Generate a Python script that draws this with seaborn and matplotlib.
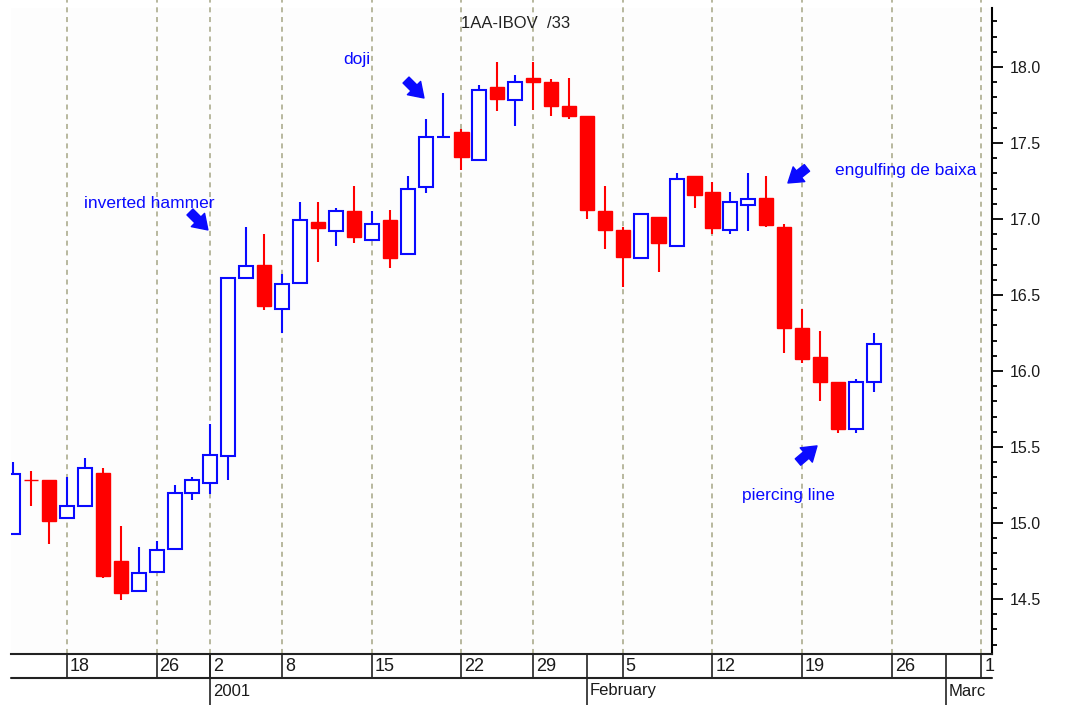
import numpy as np
import pandas as pd
import matplotlib
matplotlib.use("Agg")
import matplotlib.pyplot as plt
from matplotlib.ticker import MultipleLocator, FormatStrFormatter
import seaborn as sns

# ---------------- data ----------------
opens  = [14.93, 15.28, 15.28, 15.03, 15.11, 15.33, 14.75, 14.55, 14.68, 14.83,
          15.20, 15.26, 15.44, 16.61, 16.70, 16.41, 16.58, 16.98, 16.92, 17.05,
          16.86, 16.99, 16.77, 17.21, 17.54, 17.57, 17.39, 17.87, 17.78, 17.93,
          17.90, 17.74, 17.68, 17.05, 16.93, 16.74, 17.01, 16.82, 17.28, 17.18,
          16.93, 17.09, 17.14, 16.95, 16.28, 16.09, 15.93, 15.62, 15.93]
highs  = [15.40, 15.34, 15.28, 15.30, 15.43, 15.36, 14.98, 14.84, 14.88, 15.25,
          15.30, 15.65, 16.61, 16.95, 16.90, 16.64, 17.11, 17.11, 17.07, 17.22,
          17.05, 17.06, 17.28, 17.66, 17.83, 17.59, 17.88, 18.03, 17.95, 18.03,
          17.92, 17.93, 17.68, 17.22, 16.95, 17.04, 17.01, 17.30, 17.28, 17.24,
          17.18, 17.30, 17.28, 16.97, 16.41, 16.26, 15.93, 15.95, 16.25]
lows   = [14.93, 15.11, 14.86, 15.03, 15.11, 14.64, 14.49, 14.55, 14.68, 14.83,
          15.15, 15.19, 15.28, 16.61, 16.40, 16.25, 16.58, 16.72, 16.82, 16.84,
          16.86, 16.68, 16.77, 17.17, 17.54, 17.32, 17.39, 17.71, 17.61, 17.72,
          17.68, 17.66, 17.00, 16.80, 16.55, 16.74, 16.65, 16.82, 17.07, 16.90,
          16.90, 16.92, 16.95, 16.12, 16.05, 15.80, 15.59, 15.59, 15.86]
closes = [15.32, 15.28, 15.01, 15.11, 15.36, 14.65, 14.54, 14.67, 14.82, 15.20,
          15.28, 15.45, 16.61, 16.69, 16.43, 16.57, 16.99, 16.94, 17.05, 16.88,
          16.97, 16.74, 17.20, 17.54, 17.54, 17.41, 17.85, 17.79, 17.90, 17.90,
          17.74, 17.68, 17.06, 16.93, 16.75, 17.03, 16.84, 17.26, 17.16, 16.94,
          17.11, 17.13, 16.96, 16.28, 16.08, 15.93, 15.62, 15.93, 16.18]
# candle colour: 1 = up (hollow blue), 0 = down (red)
up_flags = [1, 0, 0, 1, 1, 0, 0, 1, 1, 1,
            1, 1, 1, 1, 0, 1, 1, 0, 1, 0,
            1, 0, 1, 1, 1, 0, 1, 0, 1, 0,
            0, 0, 0, 0, 0, 1, 0, 1, 0, 0,
            1, 1, 0, 0, 0, 0, 0, 1, 1]

# date axis (trading-day slots)
week_labels = ["18", "26", "2", "8", "15", "22", "29", "5", "12", "19", "26", "1"]
week_slots  = [3, 8, 11, 15, 20, 25, 29, 34, 39, 44, 49, 54]
month_labels = ["2001", "February", "Marc"]
month_slots  = [11, 32, 52]

title = "1AA-IBOV  /33"
notes = ["inverted hammer", "doji", "engulfing de baixa", "piercing line"]

df = pd.DataFrame({"open": opens, "high": highs, "low": lows,
                   "close": closes, "up": up_flags})
df["x"] = np.arange(len(df))

# ---------------- style ----------------
sns.set_style("white")
plt.rcParams["font.family"] = ["Liberation Sans", "DejaVu Sans"]

W, H = 1069, 705
fig = plt.figure(figsize=(W / 100, H / 100), dpi=100)
fig.patch.set_facecolor("white")
ax_l, ax_r, ax_b, ax_t = 11, 992, 654, 8
ax = fig.add_axes([ax_l / W, (H - ax_b) / H, (ax_r - ax_l) / W, (ax_b - ax_t) / H])
ax.set_facecolor("#fdfdfd")

BLUE = "#0a0aff"
RED = "#ff0000"
GRID = "#b8b89e"

# gridlines
for s in week_slots:
    ax.axvline(s, ymin=0, ymax=1.013, clip_on=False, color=GRID,
               ls=(0, (2.6, 2.4)), lw=1.4, zorder=0)

# wicks
for up, sub in df.groupby("up"):
    ax.vlines(sub["x"], sub["low"], sub["high"], color=BLUE if up else RED,
              lw=1.5, zorder=2)

# bodies
upd = df[df["up"] == 1]
dnd = df[df["up"] == 0]
ax.bar(upd["x"], upd["close"] - upd["open"], bottom=upd["open"], width=0.78,
       facecolor="white", edgecolor=BLUE, linewidth=1.5, zorder=3)
ax.bar(dnd["x"], dnd["open"] - dnd["close"], bottom=dnd["close"], width=0.8,
       facecolor=RED, edgecolor=RED, linewidth=1.0, zorder=3)

ax.set_xlim(-0.12, 54.59)
ax.set_ylim(14.138, 18.388)

# y axis on the right
ax.yaxis.tick_right()
ax.yaxis.set_major_locator(MultipleLocator(0.5))
ax.yaxis.set_minor_locator(MultipleLocator(0.1))
ax.yaxis.set_major_formatter(FormatStrFormatter("%.1f"))
ax.tick_params(axis="y", which="major", length=8, width=1.3, color="black",
               pad=5, labelsize=11.5, labelcolor="#1a1a1a", right=True, left=False)
ax.tick_params(axis="y", which="minor", length=3.3, width=1.3, color="black",
               right=True, left=False)
ax.tick_params(axis="x", bottom=False, labelbottom=False)
ax.grid(False)
for side in ["top", "left"]:
    ax.spines[side].set_visible(False)
ax.spines["right"].set_linewidth(1.5)
ax.spines["right"].set_color("black")
ax.spines["bottom"].set_linewidth(1.5)
ax.spines["bottom"].set_color("#222222")

# date axis box
axh = ax_b - ax_t
row1 = -24 / axh
row2 = -51 / axh
xt = ax.get_xaxis_transform()
ax.plot([0, 1], [row1, row1], transform=ax.transAxes, clip_on=False,
        color="#222222", lw=1.5)
for s, lab in zip(week_slots, week_labels):
    ax.plot([s, s], [0, row1], transform=xt, clip_on=False, color="#222222", lw=1.2)
    ax.annotate(lab, xy=(s, 0), xycoords=xt, xytext=(3, -12.5),
                textcoords="offset pixels", ha="left", va="center",
                fontsize=13, color="#1a1a1a", annotation_clip=False)
for s, lab in zip(month_slots, month_labels):
    ax.plot([s, s], [0, row2], transform=xt, clip_on=False, color="#222222", lw=1.2)
    ax.annotate(lab, xy=(s, 0), xycoords=xt, xytext=(3, -37),
                textcoords="offset pixels", ha="left", va="center",
                fontsize=12, color="#1a1a1a", annotation_clip=False)

# title
fig.text(516 / W, 1 - 23 / H, title, ha="center", va="center",
         fontsize=12, color="#222222")

# annotations (text and block arrows), placed in data coordinates
txt_kw = dict(fontsize=12.5, color=BLUE, va="center", ha="left", zorder=5)
ax.text(3.95, 17.105, notes[0], **txt_kw)
ax.text(18.39, 18.046, notes[1], **txt_kw)
ax.text(45.83, 17.322, notes[2], **txt_kw)
ax.text(40.65, 15.18, notes[3], **txt_kw)

arrow_kw = dict(arrowstyle="simple,head_length=0.75,head_width=1.0,tail_width=0.45",
                color=BLUE, shrinkA=0, shrinkB=0, mutation_scale=13.5)
arrows = [((9.86, 17.046), (10.86, 16.928)),
          ((21.91, 17.914), (22.91, 17.796)),
          ((44.27, 17.336), (43.21, 17.237)),
          ((43.77, 15.401), (44.83, 15.507))]
for tail, tip in arrows:
    ax.annotate("", xy=tip, xytext=tail, arrowprops=arrow_kw, zorder=5)

fig.savefig("out.png", dpi=100, facecolor="white")
